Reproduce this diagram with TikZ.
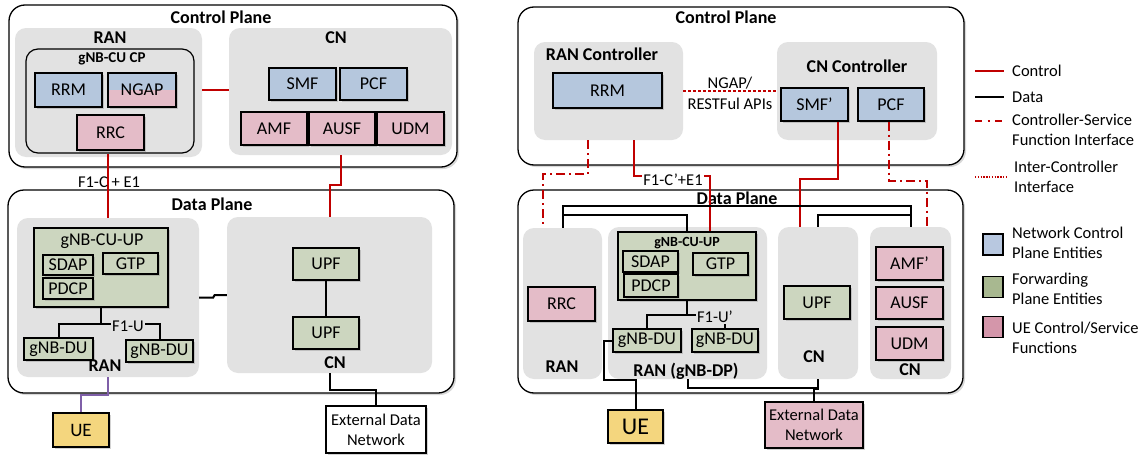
\documentclass[tikz,border=0pt]{standalone}
\usepackage{fontspec}
\setmainfont{Carlito}
\usetikzlibrary{shadows,calc}

\definecolor{ctrlred}{HTML}{C00000}
\definecolor{contgray}{HTML}{E2E2E2}
\definecolor{ncblue}{HTML}{B5C7DD}
\definecolor{fwgreen}{HTML}{CCD6BF}
\definecolor{uepink}{HTML}{E4BCC8}
\definecolor{uey}{HTML}{F4D67E}
\definecolor{uepurple}{HTML}{7F5FA8}
\definecolor{legblue}{HTML}{B8C8E0}
\definecolor{leggreen}{HTML}{A8B890}
\definecolor{legpink}{HTML}{D496AA}

\newcommand\fa{\fontsize{18}{20}\selectfont}
\newcommand\fb{\fontsize{16.5}{20}\selectfont}
\newcommand\fc{\fontsize{15}{17}\selectfont}

% box from corner (x1,y1) to corner (x2,y2)
\newcommand\bx[7]{%
  \pgfmathsetmacro\bxcx{(#3+#5)/2}\pgfmathsetmacro\bxcy{(#4+#6)/2}%
  \pgfmathsetmacro\bxw{#5-#3}\pgfmathsetmacro\bxh{#6-#4}%
  \node[#2, minimum width=\bxw pt, minimum height=\bxh pt] (#1) at (\bxcx,\bxcy) {#7};}

\begin{document}
\begin{tikzpicture}[x=1pt,y=-1pt,
  plane/.style={draw, line width=1.3pt, rounded corners=16pt, fill=white, inner sep=0pt,
    drop shadow={opacity=0.3, shadow xshift=2pt, shadow yshift=-2pt}},
  cont/.style={fill=contgray, rounded corners=11pt, inner sep=0pt},
  fbox/.style={draw, line width=1.4pt, inner sep=0pt, font=\fa,
    drop shadow={opacity=0.35, shadow xshift=1.5pt, shadow yshift=-1.5pt}},
  cpbox/.style={fbox, fill=ncblue},
  fwbox/.style={fbox, fill=fwgreen},
  uebox/.style={fbox, fill=uepink},
  ttl/.style={font=\bfseries\fa, inner sep=0pt},
  lbl/.style={font=\fb, inner sep=1pt},
  ctrl/.style={draw=ctrlred, line width=2pt},
  data/.style={draw=black, line width=2pt},
  uel/.style={draw=uepurple, line width=2pt},
  csfi/.style={draw=ctrlred, line width=2pt, dash pattern=on 9pt off 4pt on 2pt off 4pt},
  icif/.style={draw=ctrlred, line width=2.8pt, dash pattern=on 2.6pt off 2.4pt},
  legtxt/.style={font=\fb, align=left, anchor=west, inner sep=0pt},
  legsq/.style={draw, line width=1.4pt, minimum width=20pt, minimum height=21pt, inner sep=0pt}
]
\useasboundingbox (0,0) rectangle (1146,455);

% ================= left: 5G RAN / core =================
% control plane
\bx{cpL}{plane}{9}{5}{457}{167}{}
\node[ttl] (cpLt) at (221,17) {Control Plane};
\bx{ranCL}{cont}{15}{28}{202}{157}{}
\node[ttl] (ranCLt) at (110,38) {RAN};
\bx{cucp}{cont, draw, line width=1.2pt, rounded corners=12pt}{26}{49}{194}{153}{}
\node[ttl, font=\bfseries\fc] (cucpt) at (112,59) {gNB-CU CP};
\bx{rrmL}{cpbox}{35}{73}{102}{107}{RRM}
\bx{ngap}{cpbox, path picture={\fill[uepink] (path picture bounding box.west) rectangle (path picture bounding box.south east);}}{108}{73}{176}{107}{NGAP}
\bx{rrcL}{uebox}{77}{115}{144}{150}{RRC}
\bx{cnCL}{cont}{229}{28}{452}{155}{}
\node[ttl] (cnCLt) at (336,38) {CN};
\bx{smfL}{cpbox}{269}{68}{336}{100}{SMF}
\bx{pcfL}{cpbox}{340}{68}{407}{100}{PCF}
\bx{amfL}{uebox}{241}{112}{307}{145}{AMF}
\bx{ausfL}{uebox}{309}{112}{375}{145}{AUSF}
\bx{udmL}{uebox}{377}{112}{444}{145}{UDM}

% data plane
\bx{dpL}{plane}{8}{190}{454}{393}{}
\node[ttl] (dpLt) at (212,204) {Data Plane};
\bx{ranDL}{cont}{17}{218}{199}{377}{}
\bx{cuupL}{fwbox}{34}{228}{168}{307}{}
\node[font=\fa, inner sep=0pt] (cuupLt) at (102,241) {gNB-CU-UP};
\bx{sdapL}{fwbox}{43}{255}{93}{275}{SDAP}
\bx{gtpL}{fwbox}{103}{253}{158}{274}{GTP}
\bx{pdcpL}{fwbox}{43}{278}{93}{299}{PDCP}
\bx{du1L}{fwbox}{24}{338}{93}{360}{gNB-DU}
\bx{du2L}{fwbox}{126}{340}{193}{362}{gNB-DU}
\node[ttl] (ranDLt) at (105,366) {RAN};
\bx{cnDL}{cont}{227}{217}{432}{373}{}
\bx{upf1L}{fwbox}{293}{248}{359}{280}{UPF}
\bx{upf2L}{fwbox}{293}{317}{359}{349}{UPF}
\node[ttl] (cnDLt) at (335,363) {CN};

\bx{ueL}{fbox, fill=uey, font=\fontsize{19}{21}\selectfont}{53}{413}{109}{447}{UE}
\bx{ednL}{fbox, fill=white, font=\fb, align=center}{326}{406}{426}{453}{External Data\\Network}

% connectors
\draw[ctrl] (ranCL.east |- ngap) -- (cnCL.west |- ngap);
\draw[ctrl] ([xshift=-2.5pt]cucp.south) -- ([xshift=-2.5pt]cucp.south |- ranDL.north);
\node[lbl] (f1cL) at (109,182) {F1-C + E1};
\draw[ctrl] (cnCL.south) -- ++(0,30) -| (cnDL.north);
\draw[data] (upf1L) -- (upf2L);
\draw[data] (cuupL.south) -- ++(0,16) coordinate (f1uJ);
\draw[data] (du1L.north) |- (f1uJ) -| (du2L.north);
\node[lbl, fill=contgray] (f1uL) at (128,326) {F1-U};
\draw[data] (ranDL.east) -- ++(14,0) -- ++(1.5,-2.5) -- (cnDL.west);
\draw[uel] (ranDL.south) -- ++(0,18) -| (ueL.north);
\draw[data] (cnDL.south) -- ++(0,17) -| (ednL.north);

% ================= right: controller based design =================
\bx{cpR}{plane}{518}{7}{964}{165}{}
\node[ttl] (cpRt) at (726,17) {Control Plane};
\bx{ranC}{cont}{534}{42}{683}{140}{}
\node[ttl] (ranCt) at (602,54) {RAN Controller};
\bx{rrmR}{cpbox}{553}{73}{662}{108}{RRM}
\bx{cnC}{cont}{777}{42}{937}{140}{}
\node[ttl] (cnCt) at (857,66) {CN Controller};
\bx{smfR}{cpbox}{781}{88}{848}{121}{SMF’}
\bx{pcfR}{cpbox}{858}{88}{924}{121}{PCF}

\bx{dpR}{plane}{518}{190}{963}{393}{}
\node[ttl] (dpRt) at (737,198) {Data Plane};
\bx{ranRL}{cont}{523}{228}{602}{379}{}
\bx{rrcR}{uebox}{528}{287}{595}{321}{RRC}
\node[ttl] (ranRLt) at (562,367) {RAN};
\bx{ranDP}{cont}{608}{227}{767}{379}{}
\node[ttl] (ranDPt) at (686,371) {RAN (gNB-DP)};
\bx{cuupR}{fwbox}{618}{232}{756}{300}{}
\node[ttl, font=\bfseries\fontsize{14}{16}\selectfont] (cuupRt) at (687,243) {gNB-CU-UP};
\bx{sdapR}{fwbox}{623}{251}{678}{272}{SDAP}
\bx{pdcpR}{fwbox}{624}{274}{678}{297}{PDCP}
\bx{gtpR}{fwbox}{693}{253}{748}{275}{GTP}
\bx{du1R}{fwbox}{613}{329}{681}{352}{gNB-DU}
\bx{du2R}{fwbox}{692}{329}{758}{352}{gNB-DU}
\bx{cnR1}{cont}{778}{227}{858}{379}{}
\bx{upfR}{fwbox}{784}{286}{850}{319}{UPF}
\node[ttl] (cnR1t) at (814,357) {CN};
\bx{cnR2}{cont}{870}{227}{951}{379}{}
\bx{amfR}{uebox}{876}{247}{943}{280}{AMF’}
\bx{ausfR}{uebox}{876}{287}{943}{319}{AUSF}
\bx{udmR}{uebox}{876}{327}{943}{360}{UDM}
\node[ttl] (cnR2t) at (910,370) {CN};

\bx{ueR}{fbox, fill=uey, font=\fontsize{24}{26}\selectfont}{608}{410}{663}{443}{UE}
\bx{ednR}{fbox, fill=uepink, font=\fb, align=center}{765}{402}{863}{448}{External Data\\Network}

% connectors
\draw[icif] (ranC.east) -- (cnC.west |- ranC.east);
\node[lbl, align=center, font=\fontsize{16.5}{21}\selectfont] (ngapR) at (730,93.5) {NGAP/\\RESTFul APIs};
\draw[ctrl] ([xshift=25.5pt]ranC.south) -- ++(0,36) -| ([xshift=23pt]cuupR.north);
\node[lbl, fill=white] (f1cR) at (673,180) {F1-C’+E1};
\draw[ctrl] ([xshift=23.5pt]smfR.south) -- ++(0,57) -| ([xshift=-18pt]cnR1.north);
\draw[csfi] ([xshift=-20.5pt]ranC.south) -- ++(0,34) -| ([xshift=-19.5pt]ranRL.north);
\draw[csfi] ([xshift=-2pt]pcfR.south) -- ++(0,59) -| ([xshift=16.5pt]cnR2.north);
\draw[data] (ranRL.north) -- ++(0,-22) -| (cnR2.north);
\draw[data] ([yshift=13pt]ranRL.north) -| (cuupR.north);
\draw[data] (cnR1.north) |- ([yshift=12pt]cnR2.north);
\draw[data] (cuupR.south) -- ++(0,14) -| (du1R.north);
\draw[data] (cuupR.south) ++(0,14) -| (du2R.north);
\node[lbl, fill=contgray] (f1uR) at (715,317) {F1-U’};
\draw[data] (du1R.west) -- ++(-8,0) -- ++(0,39) -| (ueR.north);
\draw[data] (ranDP.south) -- ++(0,9) -| (cnR1.south);
\draw[data] (ednR.north) -- ++(0,-12) -| (cnR1.south);

% ================= legend =================
\draw[ctrl] (975,71) -- (1004,71);
\node[legtxt] (lgCtrl) at (1012,71) {Control};
\draw[data] (975,97) -- (1004,97);
\node[legtxt] (lgData) at (1012,97) {Data};
\draw[ctrlred, line width=2pt, dash pattern=on 7pt off 5.5pt on 2pt off 5.5pt] (975,121) -- (1003,121);
\node[legtxt] (lgCsfi) at (1012,130) {Controller-Service\\Function Interface};
\draw[ctrlred, line width=1.5pt, dash pattern=on 1.4pt off 1.4pt] (975,177) -- (1007,177);
\node[legtxt] (lgIcif) at (1014,177) {Inter-Controller\\Interface};
\node[legsq, fill=legblue] (sqB) at (993,244.5) {};
\node[legtxt] (lgB) at (1012,243) {Network Control\\Plane Entities};
\node[legsq, fill=leggreen] (sqG) at (993,287) {};
\node[legtxt] (lgG) at (1012,289) {Forwarding\\Plane Entities};
\node[legsq, fill=legpink] (sqP) at (993,327) {};
\node[legtxt] (lgP) at (1012,338) {UE Control/Service\\Functions};
\end{tikzpicture}
\end{document}
